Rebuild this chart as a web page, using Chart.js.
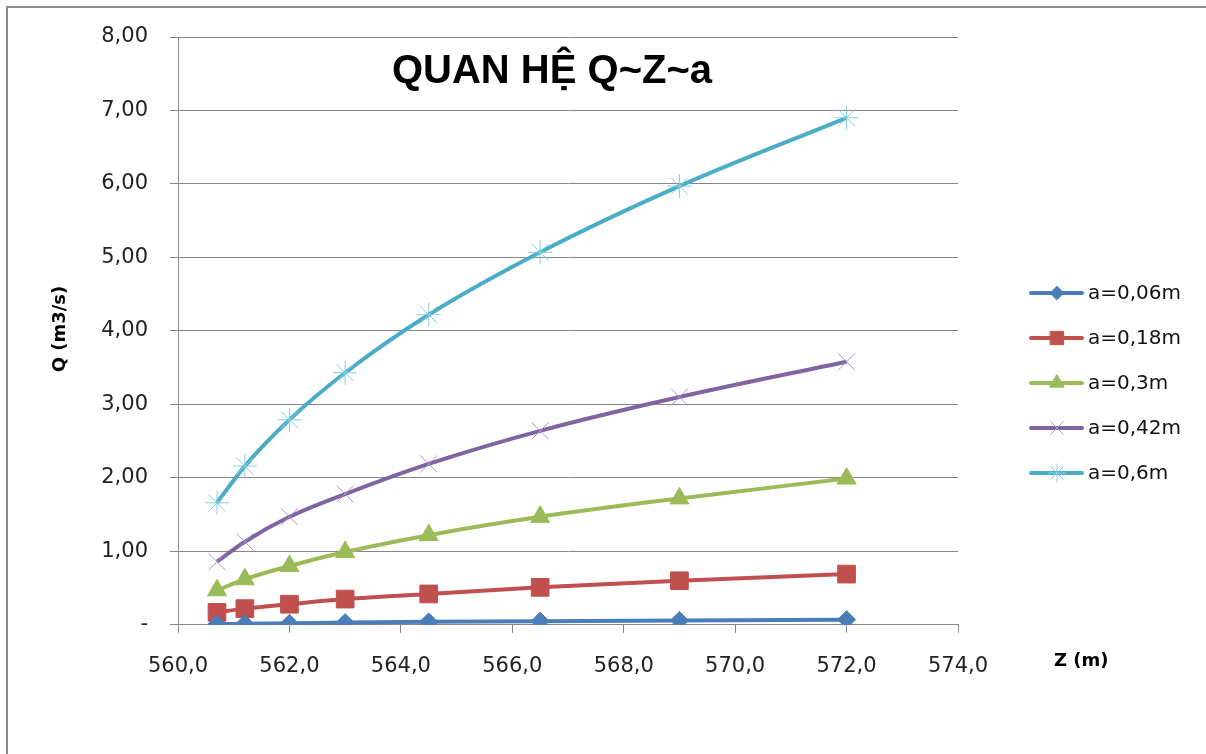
<!DOCTYPE html>
<html lang="vi">
<head>
    <meta charset="UTF-8">
    <title>Quan hệ Q~Z~a</title>
    <script src="https://cdn.jsdelivr.net/npm/chart.js"></script>
    <style>
        html, body { margin: 0; padding: 0; background: #fff; overflow: hidden; }
        #wrap { position: absolute; left: 0; top: 0; width: 1206px; height: 754px; }
    </style>
</head>
<body>
<div id="wrap"><canvas id="chart" width="1206" height="754"></canvas></div>

<script>
// Z (m)
const zValues = [560.7, 561.2, 562.0, 563.0, 564.5, 566.5, 569.0, 572.0];

// Q (m3/s) for each gate opening a
const q006 = [0.01, 0.015, 0.02, 0.03, 0.04, 0.05, 0.06, 0.07];
const q018 = [0.17, 0.22, 0.28, 0.35, 0.42, 0.51, 0.60, 0.69];
const q030 = [0.47, 0.62, 0.80, 0.99, 1.22, 1.47, 1.72, 1.99];
const q042 = [0.86, 1.13, 1.47, 1.78, 2.19, 2.64, 3.10, 3.58];
const q060 = [1.66, 2.16, 2.79, 3.43, 4.22, 5.07, 5.97, 6.90];

const seriesLabels = ['a=0,06m', 'a=0,18m', 'a=0,3m', 'a=0,42m', 'a=0,6m'];

const fmt = (v, d) => v.toFixed(d).replace('.', ',');

function pts(ys) {
    return zValues.map((z, i) => ({ x: z, y: ys[i] }));
}

function series(label, ys, color, style, radius, ptColor, ptBorder) {
    return {
        label: label,
        data: pts(ys),
        borderColor: color,
        borderWidth: 4,
        cubicInterpolationMode: 'monotone',
        pointStyle: style,
        pointRadius: radius,
        pointHoverRadius: radius,
        pointBackgroundColor: ptColor,
        pointBorderColor: ptColor,
        pointBorderWidth: ptBorder
    };
}

const datasets = [
    series(seriesLabels[0], q006, '#4a7ebb', 'rectRot', 9, '#4a7ebb', 1),
    series(seriesLabels[1], q018, '#c0504d', 'rect', 12.5, '#c0504d', 1),
    series(seriesLabels[2], q030, '#9bbb59', 'triangle', 11, '#9bbb59', 1),
    series(seriesLabels[3], q042, '#8064a2', 'crossRot', 12, '#a994c9', 1),
    series(seriesLabels[4], q060, '#4bacc6', 'star', 12, '#86cde0', 1)
];

// frame, title, axis titles and legend drawn by hand like the Excel original
const extras = {
    id: 'extras',
    afterDraw(chart) {
        const ctx = chart.ctx;
        ctx.save();

        ctx.strokeStyle = '#8c8c8c';
        ctx.lineWidth = 2;
        ctx.beginPath();
        ctx.moveTo(7, 754);
        ctx.lineTo(7, 7);
        ctx.lineTo(1206, 7);
        ctx.stroke();

        ctx.fillStyle = '#000';
        ctx.textBaseline = 'middle';

        ctx.font = 'bold 40px "Liberation Sans"';
        ctx.textAlign = 'center';
        ctx.fillText('QUAN HỆ Q~Z~a', 552, 72);

        ctx.font = 'bold 18px "DejaVu Sans"';
        ctx.textAlign = 'left';
        ctx.fillText('Z (m)', 1054, 661);

        ctx.save();
        ctx.translate(60, 329);
        ctx.rotate(-Math.PI / 2);
        ctx.textAlign = 'center';
        ctx.fillText('Q (m3/s)', 0, 0);
        ctx.restore();

        // legend
        ctx.font = '20px "DejaVu Sans"';
        chart.data.datasets.forEach((ds, i) => {
            const y = 293 + i * 45;
            ctx.strokeStyle = ds.borderColor;
            ctx.lineWidth = 4;
            ctx.lineCap = 'round';
            ctx.beginPath();
            ctx.moveTo(1031, y);
            ctx.lineTo(1082, y);
            ctx.stroke();
            ctx.fillStyle = ds.pointBackgroundColor;
            ctx.strokeStyle = ds.pointBorderColor;
            ctx.lineWidth = ds.pointBorderWidth;
            Chart.helpers.drawPoint(ctx, {
                pointStyle: ds.pointStyle,
                radius: ds.pointRadius * 0.75,
                rotation: 0,
                borderWidth: ds.pointBorderWidth
            }, 1057, y);
            ctx.fillStyle = '#111';
            ctx.textAlign = 'left';
            ctx.fillText(ds.label, 1088, y + 1);
        });
        ctx.restore();
    }
};

new Chart(document.getElementById('chart').getContext('2d'), {
    type: 'line',
    data: { datasets: datasets },
    plugins: [extras],
    options: {
        responsive: false,
        animation: false,
        layout: { padding: { top: 37, right: 248, left: 0, bottom: 54 } },
        plugins: {
            legend: { display: false },
            title: { display: false },
            tooltip: { enabled: false }
        },
        scales: {
            x: {
                type: 'linear',
                min: 560,
                max: 574,
                ticks: {
                    stepSize: 2,
                    padding: 21,
                    color: '#222',
                    font: { family: 'DejaVu Sans', size: 21 },
                    maxRotation: 0,
                    callback: (v) => fmt(v, 1)
                },
                grid: { drawOnChartArea: false, tickLength: 8, color: '#868686' },
                border: { display: true, color: '#868686' }
            },
            y: {
                min: 0,
                max: 8,
                afterFit: (s) => { s.width = 178; },
                ticks: {
                    stepSize: 1,
                    padding: 22,
                    color: '#222',
                    font: { family: 'DejaVu Sans', size: 21 },
                    callback: (v) => v === 0 ? '-' : fmt(v, 2)
                },
                grid: { tickLength: 8, color: '#868686' },
                border: { display: true, color: '#868686' }
            }
        }
    }
});
</script>
</body>
</html>
